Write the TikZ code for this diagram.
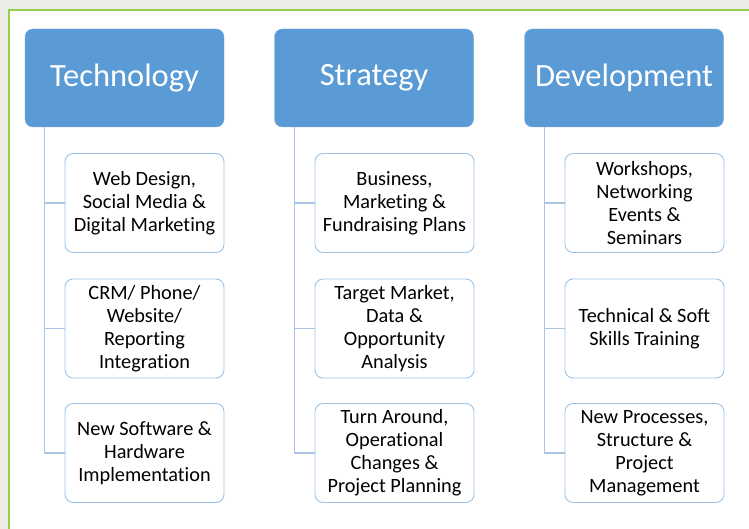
\documentclass[tikz,border=0pt]{standalone}
\usepackage{fontspec}
\setmainfont{Carlito}[Ligatures={NoCommon}]
\usepackage{xcolor}
\usepackage{tikz}
\usetikzlibrary{positioning}
\definecolor{headblue}{HTML}{5B9BD5}
\definecolor{edgeblue}{HTML}{9DC3E6}
\definecolor{linkblue}{HTML}{A9C4E3}
\definecolor{framegreen}{HTML}{92D050}
\definecolor{paper}{HTML}{ECEBE6}

\begin{document}
\begin{tikzpicture}[x=1pt,y=-1pt,
	headbox/.style={draw=headblue!85!white,fill=headblue,rounded corners=8pt,minimum width=199pt,minimum height=98pt,text=white,font=\fontsize{32.5}{37}\selectfont},
	itembox/.style={draw=edgeblue,line width=0.9pt,fill=white,rounded corners=8pt,minimum width=159pt,minimum height=99pt,align=center,inner sep=2pt,font=\fontsize{20.3}{23}\selectfont},
	link/.style={draw=linkblue,line width=1.1pt}]
	\useasboundingbox (0,0) rectangle (749,529);
	\fill[paper] (0,0) rectangle (749,529);
	\draw[framegreen,line width=2.5pt,fill=white] (9,10) rectangle (770,550);
	\draw
		(124.5,78) node[headbox](tech){Technology}
		(374,78) node[headbox](strat){Strategy}
		(624,78) node[headbox](dev){Development}
		(144.5,203) node[itembox](t1){Web Design,\\Social Media \&\\Digital Marketing}
		(144.5,328.5) node[itembox](t2){CRM/ Phone/\\Website/\\Reporting\\Integration}
		(144.5,453) node[itembox](t3){New Software \&\\Hardware\\Implementation}
		(394.5,203) node[itembox](s1){Business,\\Marketing \&\\Fundraising Plans}
		(394.5,328.5) node[itembox](s2){Target Market,\\Data \&\\Opportunity\\Analysis}
		(394.5,453) node[itembox](s3){Turn Around,\\Operational\\Changes \&\\Project Planning}
		(644.5,203) node[itembox](d1){Workshops,\\Networking\\Events \&\\Seminars}
		(644.5,328.5) node[itembox](d2){Technical \& Soft\\Skills Training}
		(644.5,453) node[itembox](d3){New Processes,\\Structure \&\\Project\\Management};
	\foreach \h/\c in {tech/t,strat/s,dev/d}{
		\foreach \i in {1,2,3}
			\draw[link]([xshift=20pt]\h.south west) |- (\c\i.west);
	}
\end{tikzpicture}
\end{document}
